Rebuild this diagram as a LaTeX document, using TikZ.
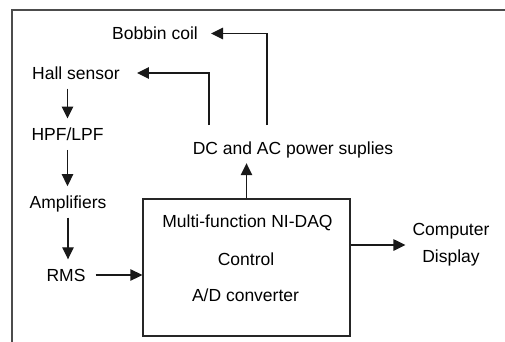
\documentclass[tikz,border=0pt]{standalone}
\usepackage{fontspec}
\setmainfont{Liberation Sans}
\usetikzlibrary{arrows.meta}
\begin{document}
\begin{tikzpicture}[x=1pt,y=-1pt,
  txt/.style={font=\fontsize{17.5}{21}\selectfont, text height=13pt, text depth=0pt, inner ysep=9pt, inner xsep=10pt, anchor=base},
  arr/.style={-{Triangle[length=12pt,width=11.5pt]}, line width=1.3pt, black!90},
  frame/.style={line width=1.5pt, black!70},
  boxst/.style={draw=black!85, line width=1.3pt, minimum width=207pt, minimum height=137pt, inner sep=0pt}]
\useasboundingbox (0,0) rectangle (505,342);
\fill[white] (0,0) rectangle (505,342);
\draw[frame] (12,342) -- (12,10) -- (505,10);
\node[txt, inner xsep=13pt] (bob) at (155,40) {Bobbin coil};
\node[txt, inner xsep=17pt] (hall) at (76,79.5) {Hall sensor};
\node[txt] (hpf) at (67.5,140.7) {HPF/LPF};
\node[txt] (amp) at (68,208.3) {Amplifiers};
\node[txt] (rms) at (66,281.5) {RMS};
\node[txt] (dc) at (293,154) {DC and AC power suplies};
\node[boxst] (daq) at (246.5,267.5) {};
\node[txt] (l1) at (247.5,227) {Multi-function NI-DAQ};
\node[txt] (l2) at (246,265) {Control};
\node[txt] (l3) at (245.5,301.7) {A/D converter};
\node[font=\fontsize{17.5}{26.6}\selectfont, align=center, inner xsep=7pt, inner ysep=0pt] (comp) at (451,245) {Computer\\Display};
\coordinate (h1) at (209,125);
\coordinate (h2) at (267,125);
\draw[arr] (h1) |- (hall.east);
\draw[arr] (h2) |- (bob.east);
\draw[arr] (hall.south -| hpf.south) -- (hpf.north);
\draw[arr] (hpf.south) -- (hpf.south |- amp.north);
\draw[arr] (amp.south) -- (amp.south |- rms.north);
\draw[arr] (rms.east) -- (rms.east -| daq.west);
\draw[arr] (daq.north) -- (daq.north |- dc.south);
\draw[arr] (daq.east |- comp.west) -- (comp.west);
\end{tikzpicture}
\end{document}
